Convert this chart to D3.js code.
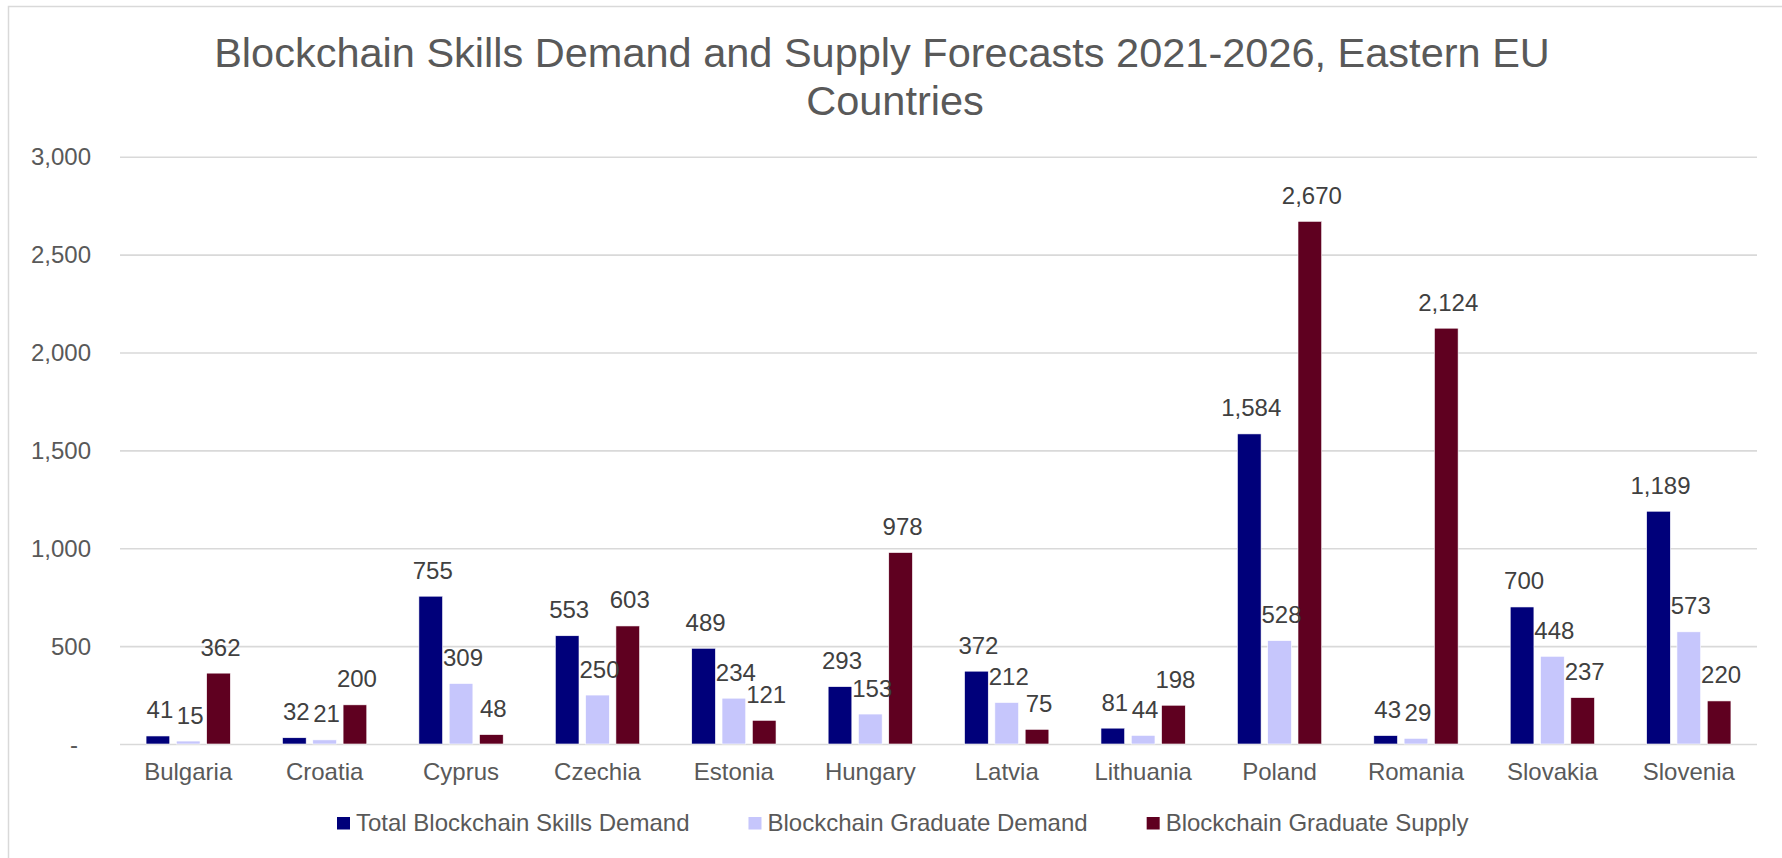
<!DOCTYPE html>
<html>
<head>
<meta charset="utf-8">
<script src="https://cdn.jsdelivr.net/npm/d3@7"></script>
<style>
  html, body { margin: 0; padding: 0; background: #fff; }
  svg { display: block; font-family: "Liberation Sans", Arial, sans-serif; }
</style>
</head>
<body>
<svg id="chart" width="1782" height="858"></svg>
<script>
// Forecast figures per country
const countries = ["Bulgaria", "Croatia", "Cyprus", "Czechia", "Estonia", "Hungary",
                   "Latvia", "Lithuania", "Poland", "Romania", "Slovakia", "Slovenia"];
const seriesNames = ["Total Blockchain Skills Demand", "Blockchain Graduate Demand", "Blockchain Graduate Supply"];
const totalDemand    = [41, 32, 755, 553, 489, 293, 372, 81, 1584, 43, 700, 1189];
const graduateDemand = [15, 21, 309, 250, 234, 153, 212, 44, 528, 29, 448, 573];
const graduateSupply = [362, 200, 48, 603, 121, 978, 75, 198, 2670, 2124, 237, 220];
const yTicks = [0, 500, 1000, 1500, 2000, 2500, 3000];
const titleLines = ["Blockchain Skills Demand and Supply Forecasts 2021-2026, Eastern EU", "Countries"];

const seriesValues = [totalDemand, graduateDemand, graduateSupply];
const colors = ["#00007a", "#c6c6fc", "#5f0020"];

const svg = d3.select("#chart");
const plot = { left: 120, right: 1757, top: 156.7, bottom: 744 };

// chart frame
svg.append("rect")
  .attr("x", 8.5).attr("y", 6.5)
  .attr("width", 1790).attr("height", 870)
  .attr("fill", "#fff").attr("stroke", "#d9d9d9").attr("stroke-width", 1.5);

// title
svg.append("text")
  .attr("x", 882).attr("y", 66.5)
  .attr("text-anchor", "middle")
  .attr("font-size", 41.5).attr("fill", "#595959")
  .text(titleLines[0]);
svg.append("text")
  .attr("x", 895).attr("y", 115)
  .attr("text-anchor", "middle")
  .attr("font-size", 41.5).attr("fill", "#595959")
  .text(titleLines[1]);

const y = d3.scaleLinear().domain([0, 3000]).range([plot.bottom, plot.top]);
const x0 = d3.scaleBand().domain(countries).range([plot.left, plot.right])
  .paddingInner(0.382).paddingOuter(0.191);
const x1 = d3.scaleBand().domain(d3.range(3)).range([0, x0.bandwidth()])
  .paddingInner(0.218).paddingOuter(0);

// gridlines and value axis
const yAxis = d3.axisLeft(y).tickValues(yTicks)
  .tickSize(-(plot.right - plot.left))
  .tickFormat(d => d === 0 ? "-" : d3.format(",")(d));
const gy = svg.append("g").attr("transform", `translate(${plot.left},0)`).call(yAxis);
gy.select(".domain").remove();
gy.selectAll(".tick line").attr("stroke", "#d9d9d9").attr("stroke-width", 1.6);
gy.selectAll(".tick text")
  .attr("x", -29).attr("dy", "0.34em")
  .attr("font-size", 24).attr("fill", "#595959")
  .attr("font-family", "'Liberation Sans', Arial, sans-serif")
  .filter(d => d === 0).attr("x", -42);

// category axis labels
const xAxis = d3.axisBottom(x0).tickSize(0).tickPadding(0);
const gx = svg.append("g").attr("transform", `translate(0,${plot.bottom})`).call(xAxis);
gx.select(".domain").remove();
gx.selectAll(".tick text")
  .attr("y", 36).attr("dy", 0)
  .attr("font-size", 24).attr("fill", "#595959")
  .attr("font-family", "'Liberation Sans', Arial, sans-serif");

// bars
const groups = svg.append("g").selectAll("g")
  .data(countries)
  .join("g")
  .attr("transform", d => `translate(${x0(d)},0)`);

groups.selectAll("rect")
  .data((c, i) => seriesValues.map((vals, s) => ({ s, v: vals[i] })))
  .join("rect")
  .attr("x", d => x1(d.s))
  .attr("width", x1.bandwidth())
  .attr("y", d => y(d.v))
  .attr("height", d => y(0) - y(d.v))
  .attr("fill", d => colors[d.s])
  .attr("stroke", "#ffffff").attr("stroke-width", 0.6);

// value labels
groups.selectAll("text.val")
  .data((c, i) => seriesValues.map((vals, s) => ({ s, v: vals[i] })))
  .join("text")
  .attr("class", "val")
  .attr("x", d => x1(d.s) + x1.bandwidth() / 2 + 2)
  .attr("y", d => y(d.v) - 17.5)
  .attr("text-anchor", "middle")
  .attr("font-size", 24).attr("fill", "#404040")
  .text(d => d3.format(",")(d.v));

// legend
const legend = svg.append("g");
let lx = 337;
seriesNames.forEach((name, s) => {
  legend.append("rect")
    .attr("x", lx).attr("y", 817)
    .attr("width", 13).attr("height", 12.5)
    .attr("fill", colors[s]);
  const t = legend.append("text")
    .attr("x", lx + 19).attr("y", 830.5)
    .attr("font-size", 24).attr("fill", "#595959")
    .text(name);
  lx += 19 + t.node().getComputedTextLength() + 59;
});
</script>
</body>
</html>
